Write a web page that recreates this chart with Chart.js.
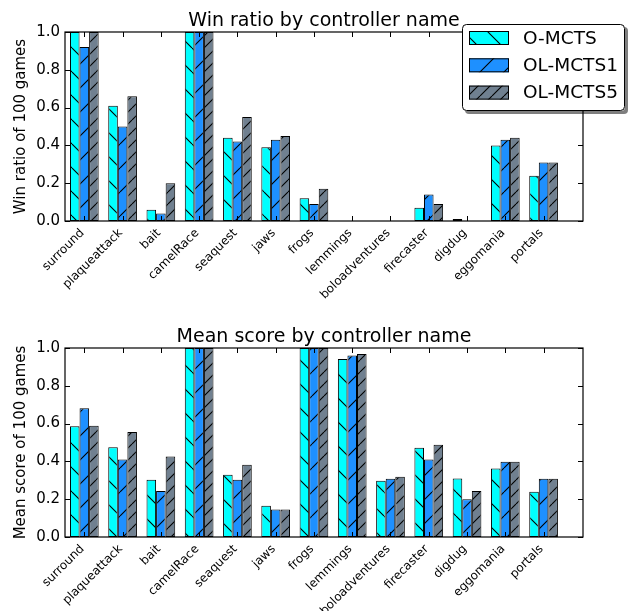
<!DOCTYPE html>
<html><head><meta charset="utf-8">
<script src="https://cdn.jsdelivr.net/npm/chart.js@4.4.0/dist/chart.umd.min.js"></script>
<style>
html,body{margin:0;padding:0;background:#fff;}
#wrap{position:relative;width:629px;height:611px;background:#fff;}
canvas{position:absolute;left:0;display:block;}
</style></head>
<body><div id="wrap">
<canvas id="c1" width="629" height="300" style="top:0;width:629px;height:300px"></canvas>
<canvas id="c2" width="629" height="311" style="top:300px;width:629px;height:311px"></canvas>
</div>
<script>
const categories = ['surround','plaqueattack','bait','camelRace','seaquest','jaws','frogs','lemmings','boloadventures','firecaster','digdug','eggomania','portals'];
const seriesNames = ['O-MCTS','OL-MCTS1','OL-MCTS5'];
const winOMCTS   = [1.00,0.61,0.06,1.00,0.44,0.39,0.12,0.00,0.00,0.07,0.01,0.40,0.24];
const winOLMCTS1 = [0.92,0.50,0.04,1.00,0.42,0.43,0.09,0.00,0.00,0.14,0.00,0.43,0.31];
const winOLMCTS5 = [1.00,0.66,0.20,1.00,0.55,0.45,0.17,0.00,0.00,0.09,0.00,0.44,0.31];
const scoreOMCTS   = [0.586,0.475,0.303,1.00,0.329,0.165,1.00,0.942,0.298,0.472,0.310,0.363,0.239];
const scoreOLMCTS1 = [0.681,0.410,0.243,1.00,0.303,0.146,1.00,0.960,0.308,0.410,0.200,0.398,0.308];
const scoreOLMCTS5 = [0.588,0.556,0.426,1.00,0.382,0.146,1.00,0.968,0.319,0.488,0.243,0.398,0.308];
const yTicks = [0.0,0.2,0.4,0.6,0.8,1.0];

const FONT = 'DejaVu Sans';
const colors = ['#00FFFF','#1E90FF','#708090'];

function hatch(ctx, color, period, dir) {
  const c = document.createElement('canvas');
  c.width = period; c.height = period;
  const g = c.getContext('2d');
  g.fillStyle = color; g.fillRect(0,0,period,period);
  g.strokeStyle = '#000'; g.lineWidth = 1.1;
  g.beginPath();
  for (const o of [-period, 0, period]) {
    if (dir === '/') { g.moveTo(o, period); g.lineTo(o + period, 0); }
    else { g.moveTo(o, 0); g.lineTo(o + period, period); }
  }
  g.stroke();
  return ctx.createPattern(c, 'repeat');
}

const framePlugin = {
  id: 'frame',
  afterDatasetsDraw(chart, args, opts) {
    const {ctx, chartArea: a, scales: {x, y}} = chart;
    ctx.save();
    ctx.strokeStyle = '#000';
    ctx.lineWidth = 1.2;
    ctx.strokeRect(a.left, a.top, a.right - a.left, a.bottom - a.top);
    ctx.lineWidth = 1;
    ctx.beginPath();
    x.ticks.forEach(t => {
      const px = Math.round(x.getPixelForValue(t.value)) + 0.5;
      ctx.moveTo(px, a.bottom); ctx.lineTo(px, a.bottom - 5);
      ctx.moveTo(px, a.top); ctx.lineTo(px, a.top + 5);
    });
    y.ticks.forEach(t => {
      const py = Math.round(y.getPixelForValue(t.value)) + 0.5;
      ctx.moveTo(a.left, py); ctx.lineTo(a.left + 5, py);
      ctx.moveTo(a.right, py); ctx.lineTo(a.right - 5, py);
    });
    ctx.stroke();
    ctx.fillStyle = '#000';
    ctx.font = '19px "' + FONT + '"';
    ctx.textAlign = 'center';
    ctx.textBaseline = 'alphabetic';
    ctx.fillText(opts.text, (a.left + a.right) / 2, a.top - 6);
    ctx.restore();
  }
};

function roundRectPath(ctx, x, y, w, h, r) {
  ctx.beginPath();
  ctx.moveTo(x + r, y);
  ctx.lineTo(x + w - r, y); ctx.arcTo(x + w, y, x + w, y + r, r);
  ctx.lineTo(x + w, y + h - r); ctx.arcTo(x + w, y + h, x + w - r, y + h, r);
  ctx.lineTo(x + r, y + h); ctx.arcTo(x, y + h, x, y + h - r, r);
  ctx.lineTo(x, y + r); ctx.arcTo(x, y, x + r, y, r);
  ctx.closePath();
}

const legendPlugin = {
  id: 'boxLegend',
  afterDraw(chart, args, opts) {
    if (!opts.show) return;
    const {ctx, chartArea: a} = chart;
    const bx = a.right - 121, by = a.top - 8, bw = 163, bh = 87;
    ctx.save();
    ctx.fillStyle = 'rgba(0,0,0,0.5)';
    roundRectPath(ctx, bx + 3, by + 3, bw, bh, 4); ctx.fill();
    ctx.fillStyle = '#fff';
    roundRectPath(ctx, bx, by, bw, bh, 4); ctx.fill();
    ctx.strokeStyle = '#000'; ctx.lineWidth = 1;
    roundRectPath(ctx, bx + 0.5, by + 0.5, bw - 1, bh - 1, 4); ctx.stroke();
    chart.data.datasets.forEach((ds, k) => {
      const cy = by + 14 + k * 27.3;
      ctx.fillStyle = ds.backgroundColor;
      ctx.fillRect(bx + 7, cy - 7, 40, 14);
      ctx.strokeStyle = '#000'; ctx.lineWidth = 1;
      ctx.strokeRect(bx + 7.5, cy - 6.5, 39, 13);
      ctx.fillStyle = '#000';
      ctx.font = '18.5px "' + FONT + '"';
      ctx.textAlign = 'left'; ctx.textBaseline = 'middle';
      ctx.fillText(ds.label, bx + 61, cy + 1);
    });
    ctx.restore();
  }
};

function makeChart(id, values, yTitle, title, padTop, xHeight, showLegend) {
  const canvas = document.getElementById(id);
  const ctx = canvas.getContext('2d');
  const fills = [hatch(ctx, colors[0], 24, '\\'), hatch(ctx, colors[1], 24, '/'), hatch(ctx, colors[2], 12, '/')];
  return new Chart(ctx, {
    type: 'bar',
    data: {
      datasets: seriesNames.map((n, k) => ({
        label: n,
        data: values[k].map((v, i) => ({x: i, y: v})),
        backgroundColor: fills[k],
        borderColor: '#000',
        borderWidth: 1,
        borderSkipped: false,
        categoryPercentage: 0.75,
        barPercentage: 1.0
      }))
    },
    options: {
      responsive: false,
      animation: false,
      devicePixelRatio: 1,
      layout: {padding: {left: 0, right: 46, top: padTop, bottom: 0}},
      plugins: {
        legend: {display: false},
        tooltip: {enabled: false},
        title: {display: false},
        frame: {text: title},
        boxLegend: {show: showLegend}
      },
      scales: {
        x: {
          type: 'linear', offset: false, min: -0.505, max: 13.03,
          grid: {display: false, drawTicks: false, offset: false},
          border: {display: false},
          afterBuildTicks: s => { s.ticks = categories.map((c, i) => ({value: i})); },
          afterFit: s => { s.height = xHeight; },
          ticks: {
            autoSkip: false, maxRotation: 45, minRotation: 45, padding: 5, labelOffset: -2,
            color: '#000', font: {family: FONT, size: 12},
            callback: v => categories[Math.round(v)] ?? ''
          }
        },
        y: {
          min: 0, max: 1,
          afterBuildTicks: s => { s.ticks = yTicks.map(v => ({value: v})); },
          afterFit: s => { s.width = 65; },
          grid: {display: false, drawTicks: false},
          border: {display: false},
          ticks: {padding: 5, color: '#000', font: {family: FONT, size: 15}, callback: v => Number(v).toFixed(1)},
          title: {display: true, text: yTitle, color: '#000', font: {family: FONT, size: 15}, padding: {top: 12, bottom: 0}}
        }
      }
    },
    plugins: [framePlugin, legendPlugin]
  });
}

makeChart('c1', [winOMCTS, winOLMCTS1, winOLMCTS5], 'Win ratio of 100 games', 'Win ratio by controller name', 32, 79, true);
makeChart('c2', [scoreOMCTS, scoreOLMCTS1, scoreOLMCTS5], 'Mean score of 100 games', 'Mean score by controller name', 48, 74, false);
</script>
</body></html>
